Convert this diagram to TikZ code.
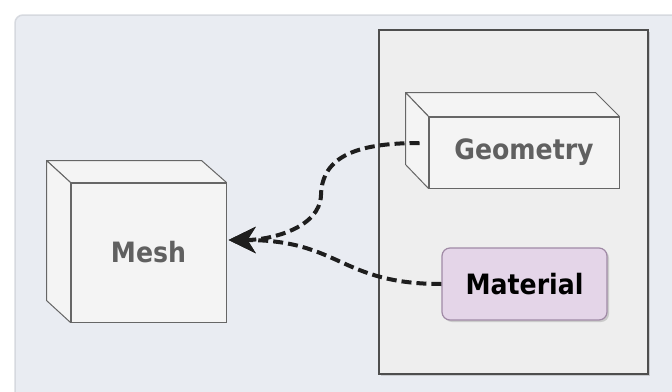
\documentclass[tikz,border=0pt]{standalone}
\usepackage{fontspec}
\setmainfont{DejaVu Sans}[FakeStretch=0.9]
\usetikzlibrary{arrows.meta,calc,shadows}
\definecolor{panelbg}{HTML}{E9ECF2}
\definecolor{panelline}{HTML}{D6D9DF}
\definecolor{contfill}{HTML}{EEEEEE}
\definecolor{contline}{HTML}{4E4E4E}
\definecolor{boxfill}{HTML}{F4F4F4}
\definecolor{boxline}{HTML}{666666}
\definecolor{txtgray}{HTML}{606060}
\definecolor{matfill}{HTML}{E4D5E8}
\definecolor{matline}{HTML}{A08AA6}
\definecolor{arrowcol}{HTML}{1E1E1E}
\tikzset{
  shd/.style={drop shadow={shadow xshift=2pt,shadow yshift=-2pt,opacity=0.25,fill=black!60}},
  frontface/.style={draw=boxline,line width=1pt,fill=boxfill,inner sep=0pt,
    font=\fontsize{28}{32}\selectfont\bfseries,text=txtgray},
  sideface/.style={draw=boxline,line width=1pt,fill=boxfill,line join=round},
  matbox/.style={draw=matline,line width=1.2pt,fill=matfill,rounded corners=8pt,inner sep=0pt,
    font=\fontsize{28}{32}\selectfont\bfseries,text=black,
    minimum width=165pt,minimum height=72pt},
  depend/.style={draw=arrowcol,line width=4pt,dash pattern=on 10pt off 5pt,
    -{Stealth[length=27pt,width=26pt,inset=8pt]}},
}
\begin{document}
\begin{tikzpicture}[x=1pt,y=-1pt]
\useasboundingbox (0,0) rectangle (672,391);
\clip (0,0) rectangle (672,391);
% outer panel
\fill[white] (0,0) rectangle (672,391);
\draw[panelline,line width=1.5pt,fill=panelbg,rounded corners=8pt] (15,15) rectangle (700,420);
% container
\draw[contline,line width=1.2pt,fill=contfill,shd] (379,30) rectangle (648,374);

% Mesh 3D box
\node[frontface,minimum width=155pt,minimum height=139pt] (mesh) at (148.5,252.5) {Mesh};
\draw[sideface] (mesh.north west) -- ++(-24,-22) -- ++(155,0) -- (mesh.north east) -- cycle;
\draw[sideface] (mesh.north west) -- ++(-24,-22) -- ($(mesh.south west)+(-24,-22)$) -- (mesh.south west) -- cycle;
\draw[boxline,line width=1pt] (mesh.north west) rectangle (mesh.south east);

% Geometry 3D box
\node[frontface,minimum width=190pt,minimum height=71pt] (geo) at (524,152.5) {Geometry};
\draw[sideface] (geo.north west) -- ++(-23,-24) -- ++(190,0) -- (geo.north east) -- cycle;
\draw[sideface] (geo.north west) -- ++(-23,-24) -- ($(geo.south west)+(-23,-24)$) -- (geo.south west) -- cycle;
\draw[boxline,line width=1pt] (geo.north west) rectangle (geo.south east);

% Material
\node[matbox,shd] (mat) at (524.5,284) {Material};

% dependencies
\coordinate (tip) at ([xshift=2pt,yshift=12.5pt]mesh.east);
\coordinate (bend) at (321,195);
\draw[depend] ([xshift=-9pt,yshift=9.5pt]geo.west)
  .. controls +(-60,0) and +(1,-40) .. (bend)
  .. controls +(-1,33) and +(42,0) .. (tip);
\draw[depend] (mat.west)
  .. controls +(-102,0) and +(112,0) .. (tip);
\end{tikzpicture}
\end{document}
